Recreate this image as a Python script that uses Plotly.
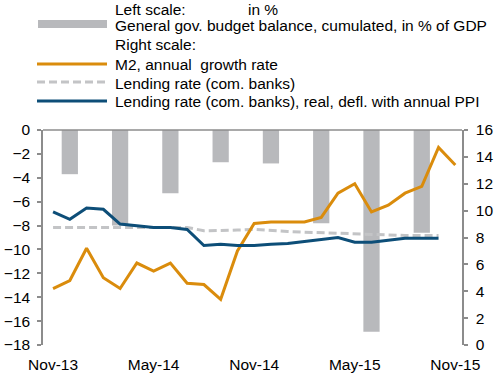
import plotly.graph_objects as go

# Monthly axis, Nov-13 .. Nov-15
months = ["Nov-13", "Dec-13", "Jan-14", "Feb-14", "Mar-14", "Apr-14", "May-14",
          "Jun-14", "Jul-14", "Aug-14", "Sep-14", "Oct-14", "Nov-14", "Dec-14",
          "Jan-15", "Feb-15", "Mar-15", "Apr-15", "May-15", "Jun-15", "Jul-15",
          "Aug-15", "Sep-15", "Oct-15", "Nov-15"]
tick_labels = ["Nov-13", "May-14", "Nov-14", "May-15", "Nov-15"]

# Left scale: general government budget balance, cumulated, % of GDP (quarterly)
budget_months = ["Dec-13", "Mar-14", "Jun-14", "Sep-14", "Dec-14", "Mar-15", "Jun-15", "Sep-15"]
budget_balance = [-3.7, -8.0, -5.3, -2.7, -2.8, -7.8, -16.9, -8.6]

# Right scale series (%)
m2_growth = [4.2, 4.8, 7.2, 5.0, 4.2, 6.1, 5.5, 6.1, 4.6, 4.5, 3.4, 7.0, 9.05,
             9.15, 9.15, 9.15, 9.5, 11.3, 12.0, 9.9, 10.4, 11.3, 11.8, 14.7, 13.4]
lending_rate = [8.75, 8.75, 8.75, 8.75, 8.75, 8.75, 8.75, 8.75, 8.75, 8.5, 8.5, 8.55,
                8.6, 8.5, 8.45, 8.4, 8.35, 8.3, 8.25, 8.2, 8.2, 8.15, 8.15, 8.15, None]
lending_real = [9.9, 9.35, 10.2, 10.1, 9.0, 8.85, 8.75, 8.75, 8.6, 7.4, 7.5, 7.4,
                7.4, 7.5, 7.55, 7.7, 7.85, 8.0, 7.65, 7.65, 7.8, 7.95, 7.95, 7.95, None]

BAR = "#B8B9BC"
ORANGE = "#DA8C0C"
DASH = "#C3C4C6"
BLUE = "#0D4E78"
AXIS = "#8C8C8C"
FONT = "Liberation Sans, Arial, sans-serif"
FS = 15.5

fig = go.Figure()
fig.add_trace(go.Bar(x=budget_months, y=budget_balance, marker_color=BAR,
                     marker_line_width=0, width=0.97, yaxis="y"))
fig.add_trace(go.Scatter(x=months, y=lending_rate, mode="lines", yaxis="y2",
                         line=dict(color=DASH, width=3, dash="8px,4px")))
fig.add_trace(go.Scatter(x=months, y=m2_growth, mode="lines", yaxis="y2",
                         line=dict(color=ORANGE, width=3)))
fig.add_trace(go.Scatter(x=months, y=lending_real, mode="lines", yaxis="y2",
                         line=dict(color=BLUE, width=3)))

# plot-area geometry in pixels, converted to paper units for the legend block
L, R, T, B = 43, 462, 130, 345
def px(x):
    return (x - L) / (R - L)
def py(y):
    return (B - y) / (B - T)

shapes = [
    # zero line of the left scale along the top edge
    dict(type="line", xref="paper", yref="paper", x0=0, x1=1, y0=1, y1=1,
         line=dict(color=AXIS, width=1.5)),
    # legend keys
    dict(type="rect", xref="paper", yref="paper", x0=px(38), x1=px(107),
         y0=py(28), y1=py(20), fillcolor=BAR, line_width=0),
    dict(type="line", xref="paper", yref="paper", x0=px(37), x1=px(107),
         y0=py(64), y1=py(64), line=dict(color=ORANGE, width=3)),
    dict(type="line", xref="paper", yref="paper", x0=px(37), x1=px(107),
         y0=py(82), y1=py(82), line=dict(color=DASH, width=3, dash="8px,4px")),
    dict(type="line", xref="paper", yref="paper", x0=px(37), x1=px(107),
         y0=py(101), y1=py(101), line=dict(color=BLUE, width=3)),
]

def label(text, x, y, anchor="left"):
    return dict(text=text, xref="paper", yref="paper", x=px(x), y=py(y),
                xanchor=anchor, yanchor="middle", showarrow=False,
                font=dict(family=FONT, size=FS, color="#000000"))

annotations = [
    label("in %", 263, 9, "center"),
    label("Left scale:", 113, 9),
    label("General gov. budget balance, cumulated, in % of GDP", 113, 26),
    label("Right scale:", 113, 44),
    label("M2, annual  growth rate", 113, 64),
    label("Lending rate (com. banks)", 113, 83),
    label("Lending rate (com. banks), real, defl. with annual PPI", 113, 101),
]

fig.update_layout(
    width=498, height=374,
    margin=dict(l=L, r=498 - R, t=T, b=374 - B),
    paper_bgcolor="white", plot_bgcolor="white",
    showlegend=False,
    font=dict(family=FONT, size=FS, color="#000000"),
    xaxis=dict(type="category", categoryorder="array", categoryarray=months,
               range=[-0.6, 24.4], tickmode="array", tickvals=tick_labels,
               ticktext=tick_labels, showgrid=False, showline=False, zeroline=False,
               ticks="", ticklabelstandoff=8, automargin=False),
    yaxis=dict(range=[-18, 0], dtick=2, showgrid=False, zeroline=False,
               showline=True, linecolor=AXIS, linewidth=1.5, ticks="outside",
               ticklen=4, tickcolor=AXIS, tickwidth=1.5, ticklabelstandoff=4,
               automargin=False),
    yaxis2=dict(range=[0, 16], dtick=2, overlaying="y", side="right",
                showgrid=False, zeroline=False, showline=True, linecolor=AXIS,
                linewidth=1.5, ticks="outside", ticklen=4, tickcolor=AXIS,
                tickwidth=1.5, ticklabelstandoff=5, automargin=False),
    shapes=shapes,
    annotations=annotations,
)

fig.write_html("out.html")
